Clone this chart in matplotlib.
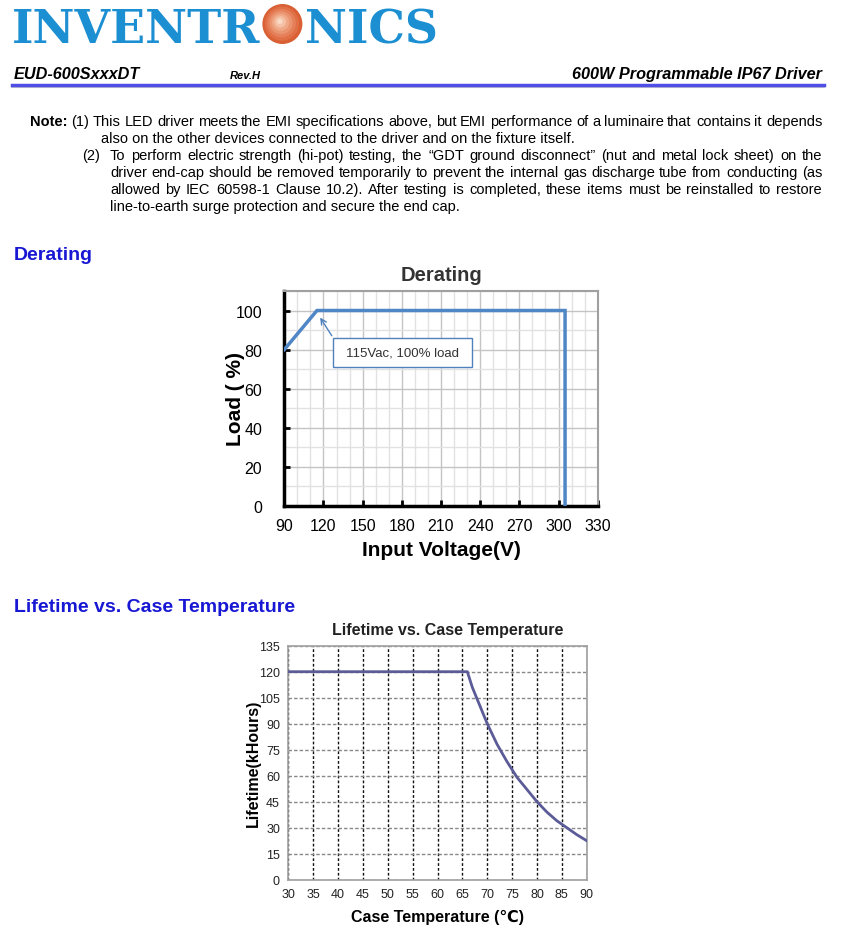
import matplotlib
matplotlib.use("Agg")
import matplotlib.pyplot as plt
from matplotlib.patches import Ellipse, Rectangle
from matplotlib.ticker import MultipleLocator

plt.rcParams['font.family'] = ['Liberation Sans', 'DejaVu Sans']

# Derating curve
derate_volts = [90, 115, 305, 305]
derate_load = [80, 100, 100, 0]
derate_xticks = [90, 120, 150, 180, 210, 240, 270, 300, 330]
derate_yticks = [0, 20, 40, 60, 80, 100]

# Lifetime vs case temperature
life_temp = [30, 66, 67, 68, 69, 70, 72, 74, 75, 76, 78, 80, 82, 84, 85, 86, 88, 90]
life_khours = [120, 120, 111, 104, 97, 90, 78, 68, 63.5, 59, 52, 45, 39, 34, 32, 30, 26, 22.5]
life_xticks = list(range(30, 95, 5))
life_yticks = list(range(0, 150, 15))

note_lines = [
    "also on the other devices connected to the driver and on the fixture itself.",
    "To perform electric strength (hi-pot) testing, the \u201cGDT ground disconnect\u201d (nut and metal lock sheet) on the",
    "driver end-cap should be removed temporarily to prevent the internal gas discharge tube from conducting (as",
    "allowed by IEC 60598-1 Clause 10.2). After testing is completed, these items must be reinstalled to restore",
    "line-to-earth surge protection and secure the end cap.",
]
note_first = "(1) This LED driver meets the EMI specifications above, but EMI performance of a luminaire that contains it depends"

W, H = 848, 928
fig = plt.figure(figsize=(W / 100, H / 100), dpi=100)
fig.patch.set_facecolor('white')
renderer = fig.canvas.get_renderer()


def ftext(x, y, s, **kw):
    return fig.text(x / W, 1 - y / H, s, **kw)


# ---- logo ----
logo_blue = '#1b8fd2'
logo_font = dict(family=['DejaVu Serif'], weight='bold', fontsize=33, color=logo_blue,
                 va='baseline')
left_part = ftext(12, 43, "INVENTR", **logo_font)
lw_px = left_part.get_window_extent(renderer).width
sphere_r = 20
sphere_cx = 12 + lw_px + 2 + sphere_r
ftext(sphere_cx + sphere_r + 3, 43, "NICS", **logo_font)
sphere_cols = ['#d95f34', '#e06f46', '#e6805a', '#eb9470', '#f0a988', '#f5c1a5', '#f9d8c5']
for i, c in enumerate(sphere_cols):
    r = sphere_r * (1 - i / len(sphere_cols))
    cx = sphere_cx - 3 * i / len(sphere_cols)
    cy = 25 - 3 * i / len(sphere_cols)
    fig.patches.append(Ellipse((cx / W, 1 - cy / H), 2 * r / W, 2 * r / H,
                               transform=fig.transFigure, color=c, lw=0))

# ---- header line ----
ftext(14, 79, "EUD-600SxxxDT", weight='bold', style='italic', fontsize=11.7, va='baseline')
ftext(230, 79, "Rev.H", weight='bold', style='italic', fontsize=8, va='baseline')
ftext(822, 79, "600W Programmable IP67 Driver", weight='bold', style='italic',
      fontsize=11.7, va='baseline', ha='right')
fig.add_artist(plt.Line2D([12 / W, 824 / W], [1 - 88 / H] * 2, color='#c8c8c8', lw=1.5))
fig.add_artist(plt.Line2D([12 / W, 824 / W], [1 - 86 / H] * 2, color='#4f4fe6', lw=2.5))


# ---- notes ----
NOTE_FS = 10.5


def justified(words, x0, x1, y, bold_first=False):
    texts = []
    for i, w in enumerate(words):
        weight = 'bold' if (bold_first and i == 0) else 'normal'
        texts.append(ftext(0, y, w, fontsize=NOTE_FS, weight=weight, va='baseline'))
    widths = [t.get_window_extent(renderer).width for t in texts]
    gap = (x1 - x0 - sum(widths)) / (len(words) - 1)
    x = x0
    for t, w in zip(texts, widths):
        t.set_x(round(x) / W)
        x += w + gap


base = [126, 143, 160, 177, 194, 211]
justified(["Note:"] + note_first.split(), 30, 822, base[0], bold_first=True)
ftext(101, base[1], note_lines[0], fontsize=NOTE_FS, va='baseline')
ftext(82, base[2], "(2)", fontsize=NOTE_FS, va='baseline')
justified(note_lines[1].split(), 110, 822, base[2])
justified(note_lines[2].split(), 110, 822, base[3])
justified(note_lines[3].split(), 110, 822, base[4])
ftext(110, base[5], note_lines[4], fontsize=NOTE_FS, va='baseline')

# ---- section headings ----
head_blue = '#1717d4'
ftext(14, 255, "Derating", weight='bold', fontsize=14, color=head_blue, va='center')
ftext(14, 608, "Lifetime vs. Case Temperature", weight='bold', fontsize=14,
      color=head_blue, va='center')

# ---- derating chart ----
ax1 = fig.add_axes([284.3 / W, 1 - 506.7 / H, 313.4 / W, 214.7 / H])
ax1.plot(derate_volts, derate_load, color='#4f86c6', lw=2.5, zorder=4,
         solid_joinstyle='miter')
ax1.set_xlim(90, 330)
ax1.set_ylim(0, 110)
ax1.set_xticks(derate_xticks)
ax1.set_yticks(derate_yticks)
ax1.xaxis.set_minor_locator(MultipleLocator(10))
ax1.yaxis.set_minor_locator(MultipleLocator(10))
ax1.grid(which='major', color='#c4c4c4', lw=1)
ax1.grid(which='minor', color='#e2e2e2', lw=1)
ax1.tick_params(which='major', direction='in', length=4, width=2, labelsize=11.5,
                colors='black')
ax1.tick_params(axis='x', pad=9)
ax1.tick_params(axis='y', pad=16)
ax1.tick_params(which='minor', length=0)
for s in ['left', 'bottom']:
    ax1.spines[s].set_linewidth(2.5)
    ax1.spines[s].set_color('black')
for s in ['top', 'right']:
    ax1.spines[s].set_linewidth(1.5)
    ax1.spines[s].set_color('#a0a0a0')
ax1.text(0.5, 1.079, "Derating", transform=ax1.transAxes, ha='center', va='center',
         weight='bold', fontsize=14.5, color='#333333')
ax1.set_xlabel("Input Voltage(V)", weight='bold', fontsize=15)
ax1.xaxis.set_label_coords(0.5, -0.202)
ax1.xaxis.label.set_va('center')
ax1.set_ylabel("Load ( %)", weight='bold', fontsize=15)
ax1.yaxis.set_label_coords(-0.157, 0.5)
ax1.yaxis.label.set_va('center')
ax1.add_patch(Rectangle((127.3, 71.1), 106.4, 14.8, facecolor='white',
                        edgecolor='#4f81bd', lw=1, zorder=5))
ax1.text(180.5, 78.5, "115Vac, 100% load", ha='center', va='center', fontsize=9.5,
         color='#333333', zorder=6)
ax1.annotate("", xy=(116.3, 97.6), xytext=(127.5, 85.9),
             arrowprops=dict(arrowstyle='->', color='#4f81bd', lw=1), zorder=6)

# ---- lifetime chart ----
ax2 = fig.add_axes([288.3 / W, 1 - 880.7 / H, 298.4 / W, 234 / H])
ax2.plot(life_temp, life_khours, color='#5b5b98', lw=2, zorder=4)
ax2.set_xlim(30, 90)
ax2.set_ylim(0, 135)
ax2.set_xticks(life_xticks)
ax2.set_yticks(life_yticks)
ax2.grid(axis='x', color='#111111', lw=1, ls=(0, (2, 1.5)))
ax2.grid(axis='y', color='#888888', lw=1, ls=(0, (2.5, 1.5)))
ax2.tick_params(length=0, labelsize=9, colors='#222222', pad=6)
for s in ax2.spines.values():
    s.set_color('#a0a0a0')
    s.set_linewidth(1.2)
ax2.text(0.535, 1.071, "Lifetime vs. Case Temperature", transform=ax2.transAxes,
         ha='center', va='center', weight='bold', fontsize=11.5, color='#222222')
ax2.set_xlabel("Case Temperature (\u2103)", weight='bold', fontsize=11.5,
               family=['Liberation Sans', 'DejaVu Sans', 'Noto Sans CJK SC'])
ax2.xaxis.set_label_coords(0.5, -0.159)
ax2.xaxis.label.set_va('center')
ax2.set_ylabel("Lifetime(kHours)", weight='bold', fontsize=11.5)
ax2.yaxis.set_label_coords(-0.118, 0.5)
ax2.yaxis.label.set_va('center')

fig.savefig("out.png", dpi=100)
